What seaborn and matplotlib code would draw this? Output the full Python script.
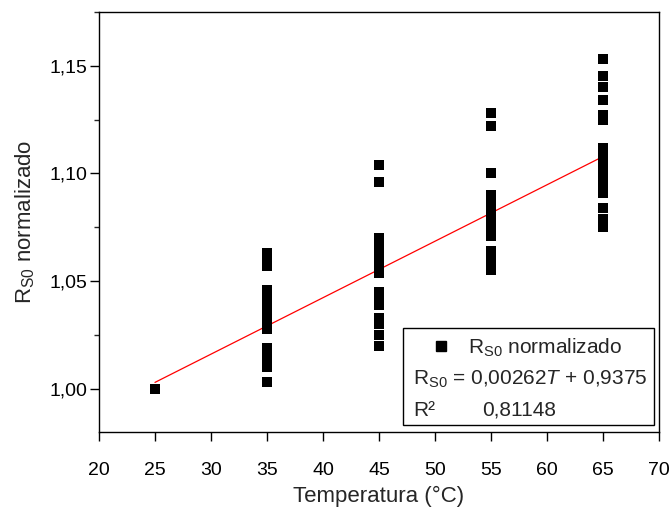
#!/usr/bin/env python3
"""Normalized R_S0 vs temperature, with linear fit."""

import matplotlib
matplotlib.use("Agg")
import matplotlib.pyplot as plt
import pandas as pd
import seaborn as sns
from matplotlib.patches import Rectangle
from matplotlib.lines import Line2D
from matplotlib.ticker import MultipleLocator

# measured points, grouped by temperature (°C)
rs0_25 = [1.000]
rs0_35 = [1.063, 1.060, 1.057, 1.046, 1.043, 1.040, 1.037, 1.034, 1.031, 1.028,
          1.019, 1.016, 1.013, 1.010, 1.003]
rs0_45 = [1.104, 1.096, 1.070, 1.068, 1.066, 1.064, 1.062, 1.059, 1.057, 1.054,
          1.045, 1.042, 1.039, 1.033, 1.030, 1.025, 1.020]
rs0_55 = [1.128, 1.122, 1.100, 1.090, 1.088, 1.086, 1.083, 1.080, 1.077, 1.074,
          1.071, 1.064, 1.061, 1.058, 1.055]
rs0_65 = [1.153, 1.145, 1.140, 1.134, 1.127, 1.125, 1.112, 1.109, 1.106, 1.103,
          1.100, 1.097, 1.094, 1.091, 1.084, 1.079, 1.075]
groups = {25: rs0_25, 35: rs0_35, 45: rs0_45, 55: rs0_55, 65: rs0_65}

# linear fit reported in the legend
slope = 0.00262
intercept = 0.9375
fit_t = [25, 65]

x_ticks = [20, 25, 30, 35, 40, 45, 50, 55, 60, 65, 70]
y_ticks = [1.00, 1.05, 1.10, 1.15]
y_tick_labels = ["1,00", "1,05", "1,10", "1,15"]

df = pd.DataFrame(
    [(t, v) for t, vals in groups.items() for v in vals],
    columns=["temperatura", "rs0"],
)
fit = pd.DataFrame({"temperatura": fit_t})
fit["rs0"] = slope * fit["temperatura"] + intercept

sns.set_style("ticks")
plt.rcParams["font.family"] = ["Liberation Sans", "DejaVu Sans"]
plt.rcParams["mathtext.fontset"] = "custom"
plt.rcParams["mathtext.rm"] = "Liberation Sans"
plt.rcParams["mathtext.it"] = "Liberation Sans:italic"

fig = plt.figure(figsize=(6.71, 5.13), dpi=100)
ax = fig.add_axes([0.1475, 0.158, 0.8345, 0.819])

sns.lineplot(data=fit, x="temperatura", y="rs0", color="red", linewidth=0.9, ax=ax)
sns.scatterplot(data=df, x="temperatura", y="rs0", marker="s", s=52,
                color="black", edgecolor="none", ax=ax, zorder=3)

ax.set_xlim(20, 70)
ax.set_ylim(0.98, 1.175)
ax.set_xticks(x_ticks)
ax.set_xticklabels([str(t) for t in x_ticks])
ax.set_yticks(y_ticks)
ax.set_yticklabels(y_tick_labels)
ax.yaxis.set_minor_locator(MultipleLocator(0.025))
ax.tick_params(axis="both", which="major", direction="out", length=6.5,
               width=1, labelsize=14, colors="black")
ax.tick_params(axis="y", which="major", pad=1.5)
ax.tick_params(axis="x", which="major", pad=15)
ax.tick_params(axis="y", which="minor", direction="out", length=3.5, width=1)
for side in ["top", "right", "left", "bottom"]:
    ax.spines[side].set_visible(True)
    ax.spines[side].set_color("black")
    ax.spines[side].set_linewidth(1)

ax.set_xlabel("Temperatura (°C)", fontsize=16, labelpad=5)
ax.set_ylabel("R$_{\\mathrm{S0}}$ normalizado", fontsize=16, labelpad=9)

# Origin-style legend box
ax.add_patch(Rectangle((0.543, 0.017), 0.448, 0.231, transform=ax.transAxes,
                       fill=True, facecolor="white", edgecolor="black",
                       linewidth=1, zorder=4))
handle = Line2D([], [], marker="s", color="black", linestyle="none", markersize=7)
leg = ax.legend(handles=[handle], labels=["R$_{\\mathrm{S0}}$ normalizado"],
                loc="center left", bbox_to_anchor=(0.573, 0.201),
                frameon=False, fontsize=15, handletextpad=0.8,
                borderpad=0, handlelength=1.0)
leg.set_zorder(5)
ax.text(0.561, 0.124, "R$_{\\mathrm{S0}}$ = 0,00262$T$ + 0,9375",
        transform=ax.transAxes, fontsize=15, va="center", ha="left", zorder=5)
ax.text(0.561, 0.052, "R²", transform=ax.transAxes, fontsize=15,
        va="center", ha="left", zorder=5)
ax.text(0.684, 0.052, "0,81148", transform=ax.transAxes, fontsize=15,
        va="center", ha="left", zorder=5)

fig.savefig("out.png", dpi=100)
